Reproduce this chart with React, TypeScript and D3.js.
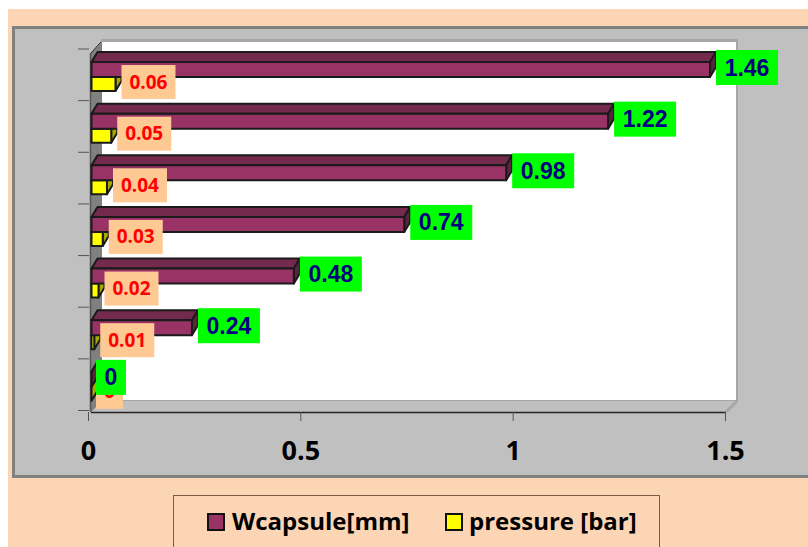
import React from "react";
import * as d3 from "d3";

const categories = ["7", "6", "5", "4", "3", "2", "1"];
const wcapsule = [1.46, 1.22, 0.98, 0.74, 0.48, 0.24, 0];
const pressure = [0.06, 0.05, 0.04, 0.03, 0.02, 0.01, 0];
const xTicks = [0, 0.5, 1, 1.5];
const legendLabels = ["Wcapsule[mm]", "pressure [bar]"];

const x = d3.scaleLinear().domain([0, 1.5]).range([88.5, 725.5]);
const y = d3.scaleBand<string>().domain(categories).range([49, 410.5]);
const DX = 6;
const DY = 10;
const base = 91.5;

function Bar3D({ end, top, h, front, topFill, side }: any) {
  const right = Math.max(end + 1.5, base);
  return (
    <g stroke="#1a1a1a" strokeWidth={2} strokeLinejoin="round">
      <polygon points={`${base},${top} ${base + DX},${top - DY} ${right + DX},${top - DY} ${right},${top}`} fill={topFill} />
      <polygon points={`${right},${top} ${right + DX},${top - DY} ${right + DX},${top + h - DY} ${right},${top + h}`} fill={side} />
      <rect x={base} y={top} width={right - base} height={h} fill={front} />
    </g>
  );
}

export default function App() {
  const xBack = 102;
  const xFront0 = 91;
  return (
    <svg width={808} height={547} style={{ position: "absolute", left: 0, top: 0, background: "#fff" }}>
      <rect x={8} y={9} width={800} height={538} fill="#fcd5b5" />
      <rect x={13.5} y={27.5} width={800} height={449} fill="#c0c0c0" stroke="#808080" strokeWidth={3} />

      {/* walls */}
      <polygon points="101,39 738,39 738,402 101,402" fill="#a6a6a6" />
      <rect x={102} y={42} width={634} height={358} fill="#fff" />
      <polygon points={`${xFront0},412 ${xBack},401 737,401 726,412`} fill="#c0c0c0" />
      <line x1={726} y1={412} x2={737} y2={401} stroke="#a6a6a6" strokeWidth={3} />
      <polygon points={`${xFront0},53 ${xBack},42 ${xBack},401 ${xFront0},412`} fill="#808080" />
      <line x1={xFront0} y1={53} x2={xBack - 1} y2={42} stroke="#222" strokeWidth={1} />
      <line x1={90.5} y1={53} x2={90.5} y2={412} stroke="#555" strokeWidth={1.5} />
      <line x1={91} y1={412.5} x2={726} y2={412.5} stroke="#222" strokeWidth={1.6} />

      {/* ticks */}
      {categories.map((c) => (
        <line key={c} x1={78} x2={89} y1={y(c)!} y2={y(c)!} stroke="#555" />
      ))}
      <line x1={78} x2={89} y1={410.5} y2={410.5} stroke="#555" />
      {xTicks.map((t) => (
        <line key={t} x1={x(t)} x2={x(t)} y1={412} y2={421} stroke="#555" />
      ))}

      {/* bars */}
      {categories.map((c, i) => {
        const b = y(c)!;
        return (
          <g key={c}>
            <Bar3D end={x(pressure[i])} top={b + 28} h={14} front="#ffff00" topFill="#c8c800" side="#a8a800" />
            <Bar3D end={x(wcapsule[i])} top={b + 13} h={15} front="#993366" topFill="#732a4d" side="#5a2540" />
          </g>
        );
      })}

      {/* pressure labels */}
      {categories.map((c, i) => {
        const b = y(c)!;
        const left = x(pressure[i]) + 7.5;
        const w = pressure[i] === 0 ? 27 : 54;
        return (
          <g key={c}>
            <rect x={left} y={b + 16} width={w} height={34} fill="#ffc993" />
            <text x={left + w / 2} y={b + 39.5} textAnchor="middle" fontFamily="'Open Sans'" fontWeight={700} fontSize={19} fill="#ff0000">
              {pressure[i]}
            </text>
          </g>
        );
      })}
      {/* wcapsule labels */}
      {categories.map((c, i) => {
        const b = y(c)!;
        const left = x(wcapsule[i]) + 7.5;
        const w = wcapsule[i] === 0 ? 30 : 62;
        return (
          <g key={c}>
            <rect x={left} y={b + 1} width={w} height={35} fill="#00ff00" />
            <text x={left + w / 2} y={b + 26.5} textAnchor="middle" fontFamily="'Liberation Sans'" fontWeight={700} fontSize={23} fill="#000080">
              {wcapsule[i]}
            </text>
          </g>
        );
      })}

      {/* x tick labels */}
      {xTicks.map((t) => (
        <text key={t} x={x(t)} y={460} textAnchor="middle" fontFamily="'Open Sans'" fontWeight={700} fontSize={27} fill="#000">
          {t}
        </text>
      ))}

      {/* legend */}
      <rect x={173.5} y={495.5} width={486} height={60} fill="#fcd5b5" stroke="#7a5c44" strokeWidth={1} />
      <rect x={208} y={514} width={16} height={16} fill="#993366" stroke="#111" strokeWidth={2} />
      <text x={232} y={530} fontFamily="'Open Sans'" fontWeight={700} fontSize={24} fill="#000">{legendLabels[0]}</text>
      <rect x={446} y={514} width={16} height={16} fill="#ffff00" stroke="#111" strokeWidth={2} />
      <text x={469} y={530} fontFamily="'Open Sans'" fontWeight={700} fontSize={24} fill="#000">{legendLabels[1]}</text>
    </svg>
  );
}
